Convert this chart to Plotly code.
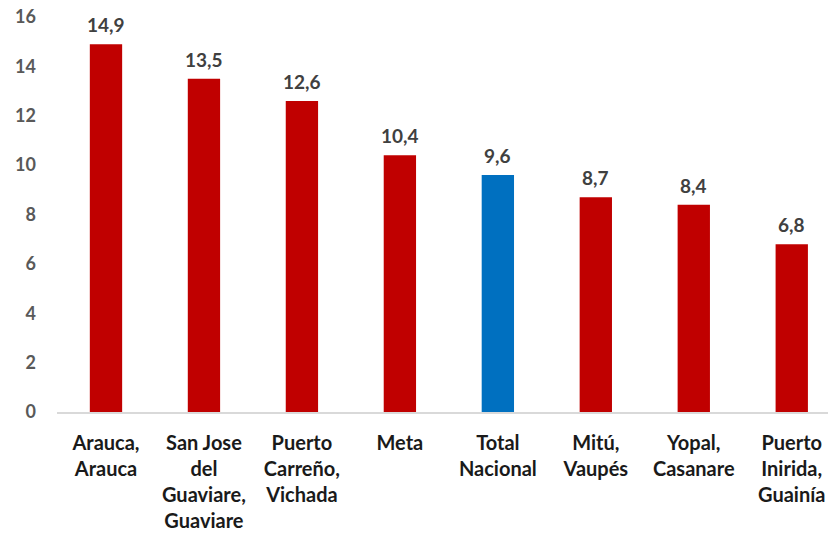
import plotly.graph_objects as go

categories = ["Arauca,<br>Arauca", "San Jose<br>del<br>Guaviare,<br>Guaviare",
              "Puerto<br>Carreño,<br>Vichada", "Meta", "Total<br>Nacional",
              "Mitú,<br>Vaupés", "Yopal,<br>Casanare", "Puerto<br>Inirida,<br>Guainía"]
values = [14.9, 13.5, 12.6, 10.4, 9.6, 8.7, 8.4, 6.8]
highlight = "Total<br>Nacional"
y_ticks = [0, 2, 4, 6, 8, 10, 12, 14, 16]

RED = "#C00000"
BLUE = "#0070C0"
colors = [BLUE if c == highlight else RED for c in categories]

fig = go.Figure(go.Bar(
    x=categories, y=values, marker=dict(color=colors, line=dict(width=0)),
    hoverinfo="skip",
))

for c, v in zip(categories, values):
    fig.add_annotation(x=c, y=v, text=f"{v:.1f}".replace(".", ","), showarrow=False,
                       yanchor="bottom", yshift=6,
                       font=dict(family="Lato", size=19, color="#404040", weight="bold"))

fig.update_layout(
    width=828, height=540,
    margin=dict(l=57, r=0, t=17, b=128, autoexpand=False),
    paper_bgcolor="white", plot_bgcolor="white",
    bargap=0.67, showlegend=False,
    separators=",.",
    font=dict(family="Lato"),
)
fig.update_xaxes(
    range=[-0.5, 7.37], showline=True, linecolor="#D9D9D9", linewidth=1.5,
    showgrid=False, ticks="", ticklabelstandoff=12, automargin=False,
    tickfont=dict(family="Lato", size=20, color="#1a1a1a", weight="bold"),
)
fig.update_yaxes(
    range=[0, 16], tickvals=y_ticks, showgrid=False, zeroline=False, showline=False,
    ticks="", ticklabelstandoff=20, automargin=False,
    tickfont=dict(family="Lato", size=18, color="#595959", weight="bold"),
)

fig.write_html("out.html", config={"displayModeBar": False},
               post_script="document.body.style.margin='0';document.body.style.overflow='hidden';")
